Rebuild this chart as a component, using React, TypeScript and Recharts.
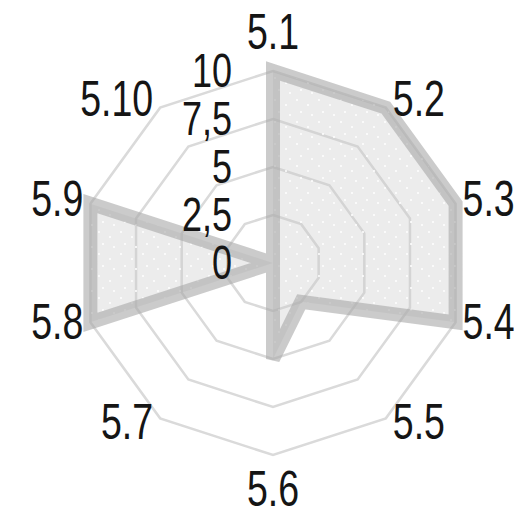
import React from 'react';
import { RadarChart, Radar, PolarGrid, PolarAngleAxis, PolarRadiusAxis } from 'recharts';

const categories = ['5.1', '5.2', '5.3', '5.4', '5.5', '5.6', '5.7', '5.8', '5.9', '5.10'];
const values = [10, 10, 10, 10, 2.5, 5, 0, 10, 10, 0];
const radiusTicks = [0, 2.5, 5, 7.5, 10];

const data = categories.map((c, i) => ({ category: c, value: values[i] }));

const CX = 265;
const CY = 255;
const R = 192;
const FONT = '"Liberation Sans", Arial, sans-serif';

// narrow tall text like the source rendering
function NarrowText({ x, y, anchor, size, children }: any) {
  return (
    <g transform={`translate(${x},${y}) scale(0.75,1)`}>
      <text x={0} y={0} textAnchor={anchor} dominantBaseline="central" fontSize={size} fontFamily={FONT} fill="#151515">
        {children}
      </text>
    </g>
  );
}

const AngleTick = ({ x, y, payload }: any) => {
  const dx = x - CX;
  const dy = y - CY;
  const d = Math.sqrt(dx * dx + dy * dy) || 1;
  const ux = dx / d;
  const uy = dy / d;
  const vx = CX + R * ux;
  const vy = CY + R * uy;
  if (Math.abs(ux) < 0.1) {
    const ty = uy < 0 ? vy - 40 : vy + 33;
    return <NarrowText x={vx} y={ty} anchor="middle" size={50}>{payload.value}</NarrowText>;
  }
  const tx = ux > 0 ? vx + 7 : vx - 7;
  const ty = vy + 8 * uy - 3;
  return (
    <NarrowText x={tx} y={ty} anchor={ux > 0 ? 'start' : 'end'} size={50}>
      {payload.value}
    </NarrowText>
  );
};

const RadiusTick = ({ x, y, payload }: any) => (
  <NarrowText x={x - 41} y={y} anchor="end" size={48}>
    {String(payload.value).replace('.', ',')}
  </NarrowText>
);

export default function App() {
  return (
    <RadarChart
      width={514}
      height={501}
      data={data}
      cx={CX}
      cy={CY}
      outerRadius={R}
      margin={{ top: 0, right: 0, bottom: 0, left: 0 }}
    >
      <defs>
        <pattern id="dots" width="22" height="22" patternUnits="userSpaceOnUse">
          <rect width="22" height="22" fill="#c8c8c8" fillOpacity={0.35} />
          <circle cx="3" cy="4" r="1" fill="#fff" />
          <circle cx="14" cy="9" r="1" fill="#fff" />
          <circle cx="7" cy="16" r="1" fill="#fff" />
          <circle cx="18" cy="19" r="1" fill="#fff" />
        </pattern>
      </defs>
      <PolarGrid gridType="polygon" radialLines={false} stroke="#dadada" strokeWidth={2.5} />
      <PolarAngleAxis dataKey="category" tick={<AngleTick />} tickLine={false} axisLine={false} />
      <PolarRadiusAxis
        angle={90}
        domain={[0, 10]}
        ticks={radiusTicks as any}
        tickCount={5}
        allowDecimals={true}
        axisLine={false}
        tickLine={false}
        tick={<RadiusTick />}
      />
      <Radar
        dataKey="value"
        stroke="#a8a8a8"
        strokeOpacity={0.6}
        strokeWidth={14}
        fill="url(#dots)"
        fillOpacity={1}
        dot={false}
        isAnimationActive={false}
      />
    </RadarChart>
  );
}
